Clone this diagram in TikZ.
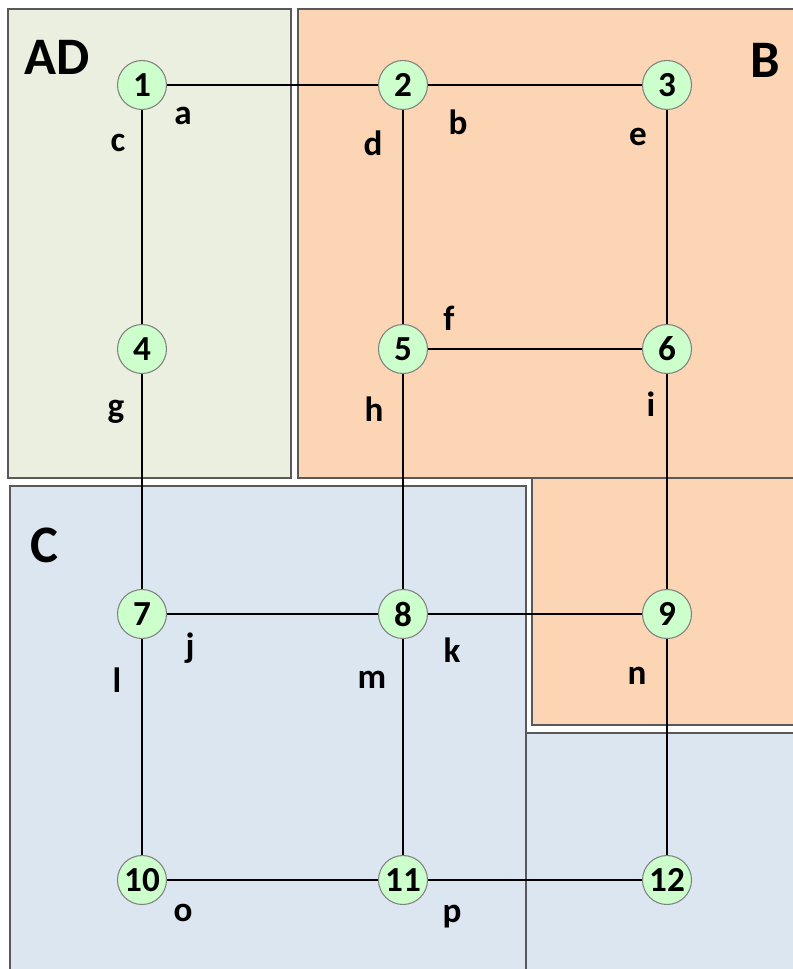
\documentclass[tikz,border=0pt]{standalone}
\usepackage{fontspec}
\setmainfont{Carlito}
\definecolor{zoneAD}{HTML}{EBEFDF}
\definecolor{zoneB}{HTML}{FCD5B4}
\definecolor{zoneC}{HTML}{DCE6F1}
\definecolor{vfill}{HTML}{CCFFCC}
\tikzset{
  zone/.style={draw=black!65, line width=0.6pt},
  zonelabel/.style={font=\fontsize{30}{32}\selectfont\bfseries},
  vertex/.style={circle, draw=black!50, line width=0.6pt, fill=vfill,
    minimum size=0.98cm, inner sep=0pt, font=\fontsize{20}{22}\selectfont\bfseries},
  link/.style={line width=1.6pt},
  elabel/.style={font=\fontsize{20}{22}\selectfont\bfseries, inner sep=0pt}
}
\begin{document}
\begin{tikzpicture}[x=0.02cm, y=-0.02cm]
\useasboundingbox (0,0) rectangle (792,969);
% zones
\draw[zone, fill=zoneAD] (8,9) rectangle (291,478);
\draw[zone, fill=zoneB] (532,478) rectangle (796,725);
\draw[zone, fill=zoneB] (298,9) rectangle (796,478);
\draw[zone, fill=zoneC] (526,733) rectangle (796,973);
\draw[zone, fill=zoneC] (10,486) rectangle (526,973);
\node[zonelabel] (zAD) at (57,57) {AD};
\node[zonelabel] (zB) at (765,60) {B};
\node[zonelabel] (zC) at (44,545) {C};
% vertices
\node[vertex] (n1) at (142,85) {1};
\node[vertex] (n2) at (403,85) {2};
\node[vertex] (n3) at (667,85) {3};
\node[vertex] (n4) at (142,349) {4};
\node[vertex] (n5) at (403,349) {5};
\node[vertex] (n6) at (667,349) {6};
\node[vertex] (n7) at (142,614) {7};
\node[vertex] (n8) at (403,614) {8};
\node[vertex] (n9) at (667,614) {9};
\node[vertex] (n10) at (142,880) {10};
\node[vertex] (n11) at (403,880) {11};
\node[vertex] (n12) at (667,880) {12};
% links
\draw[link] (n1) -- (n2);
\draw[link] (n2) -- (n3);
\draw[link] (n1) -- (n4);
\draw[link] (n2) -- (n5);
\draw[link] (n3) -- (n6);
\draw[link] (n5) -- (n6);
\draw[link] (n4) -- (n7);
\draw[link] (n5) -- (n8);
\draw[link] (n6) -- (n9);
\draw[link] (n7) -- (n8);
\draw[link] (n8) -- (n9);
\draw[link] (n7) -- (n10);
\draw[link] (n8) -- (n11);
\draw[link] (n9) -- (n12);
\draw[link] (n10) -- (n11);
\draw[link] (n11) -- (n12);
% link names
\node[elabel] (la) at (183,116) {a};
\node[elabel] (lb) at (458,122) {b};
\node[elabel] (lc) at (118,143) {c};
\node[elabel] (ld) at (373,143) {d};
\node[elabel] (le) at (638,137) {e};
\node[elabel] (lf) at (449,318) {f};
\node[elabel] (lg) at (116,412) {g};
\node[elabel] (lh) at (374,409) {h};
\node[elabel] (li) at (651,404) {i};
\node[elabel] (lj) at (190,648) {j};
\node[elabel] (lk) at (452,650) {k};
\node[elabel] (ll) at (117,680) {l};
\node[elabel] (lm) at (372,680) {m};
\node[elabel] (ln) at (637,676) {n};
\node[elabel] (lo) at (183,913) {o};
\node[elabel] (lp) at (452,917) {p};
\end{tikzpicture}
\end{document}
